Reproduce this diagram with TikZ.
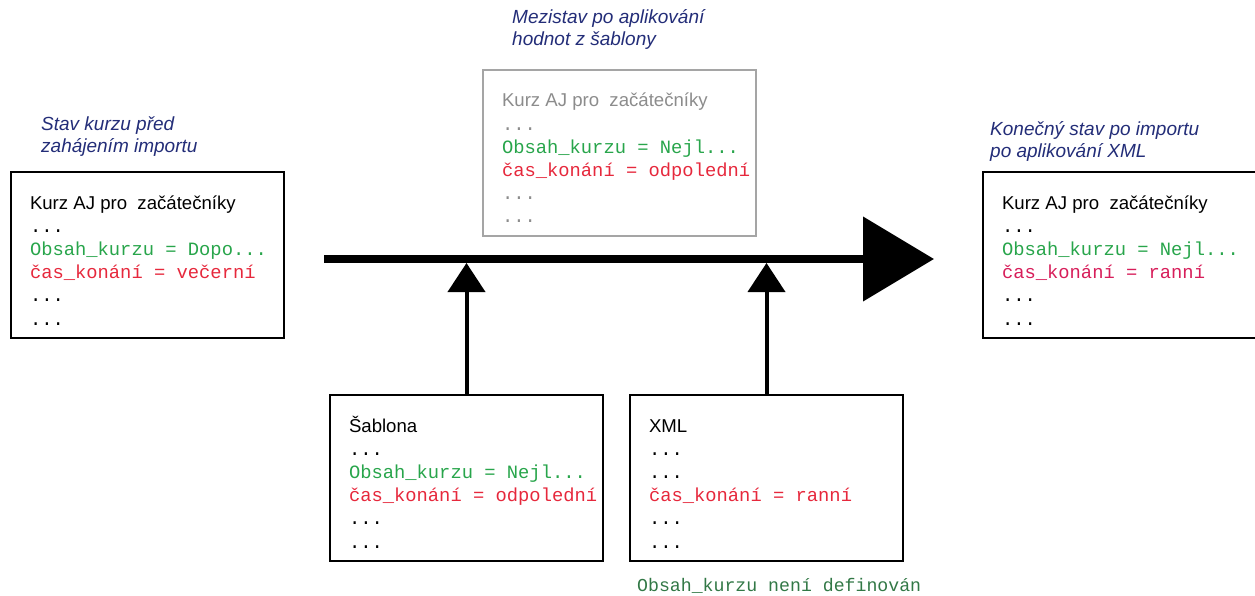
\documentclass[tikz,border=0pt]{standalone}
\usepackage{fontspec}
\setmainfont{Liberation Sans}
\setmonofont{Liberation Mono}
\usetikzlibrary{arrows.meta}

\definecolor{txtgreen}{RGB}{40,165,75}
\definecolor{txtred}{RGB}{230,40,60}
\definecolor{txtpink}{RGB}{215,30,90}
\definecolor{lblblue}{RGB}{35,45,120}
\definecolor{boxgrey}{RGB}{165,165,165}
\definecolor{txtgrey}{RGB}{140,140,140}
\definecolor{darkgreen}{RGB}{50,120,70}

\newcommand{\boxfont}{\ttfamily\fontsize{18.8}{23.2}\selectfont}
\newcommand{\notefont}{\ttfamily\fontsize{18.2}{22}\selectfont}
\newcommand{\ttl}[1]{{\rmfamily\fontsize{18.6}{23.2}\selectfont\spaceskip=0pt\relax\rule{0pt}{24pt}#1}}
\newcommand{\rowtxt}[2]{\mbox{\spaceskip=0pt\relax\textcolor{#1}{#2}}}

\tikzset{
  box/.style={draw=black, line width=2pt, anchor=north west, outer sep=0pt,
    minimum width=273pt, minimum height=166pt, text width=235pt, inner xsep=19pt,
    align=left, font=\boxfont},
  lbl/.style={anchor=north west, inner sep=0pt, align=left, text=lblblue,
    font=\itshape\fontsize{19}{22.5}\selectfont},
  arr/.style={line width=4pt, -{Triangle[length=29pt, width=37pt]}}
}

\begin{document}
\begin{tikzpicture}[x=1pt, y=-1pt]
      \useasboundingbox (0,0) rectangle (1255,596);

      \node[lbl] (l1) at (41,116) {Stav kurzu před\\zahájením importu};
      \node[lbl] (l2) at (512,9) {Mezistav po aplikování\\hodnot z šablony};
      \node[lbl] (l3) at (990,121) {Konečný stav po importu\\po aplikování XML};

      \node[box] (start) at (11,172) {\ttl{Kurz AJ pro\ \ začátečníky}\\...\\
        \rowtxt{txtgreen}{Obsah\_kurzu = Dopo...}\\
        \rowtxt{txtred}{čas\_konání = večerní}\\...\\...};
      \node[box, draw=boxgrey, text=txtgrey] (mid) at (483,70) {\ttl{Kurz AJ pro\ \ začátečníky}\\...\\
        \rowtxt{txtgreen}{Obsah\_kurzu = Nejl...}\\
        \rowtxt{txtred}{čas\_konání = odpolední}\\...\\...};
      \node[box, minimum width=272pt] (final) at (983,172) {\ttl{Kurz AJ pro\ \ začátečníky}\\...\\
        \rowtxt{txtgreen}{Obsah\_kurzu = Nejl...}\\
        \rowtxt{txtpink}{čas\_konání = ranní}\\...\\...};
      \node[box, minimum width=272pt] (tmpl) at (330,395) {\ttl{Šablona}\\...\\
        \rowtxt{txtgreen}{Obsah\_kurzu = Nejl...}\\
        \rowtxt{txtred}{čas\_konání = odpolední}\\...\\...};
      \node[box, minimum width=272pt] (xml) at (630,395) {\ttl{XML}\\...\\...\\
        \rowtxt{txtred}{čas\_konání = ranní}\\...\\...};
      \node[anchor=base west, inner sep=0pt, text=darkgreen, font=\notefont]
        (note) at (637,591) {Obsah\_kurzu není definován};

      \coordinate (a) at (324,259);
      \coordinate (b) at (934,259);
      \coordinate (top) at (0,263);

      \draw[line width=8pt, -{Triangle[length=71pt, width=83pt]}] (a) -- (b);
      \draw[arr] (tmpl.north) -- (tmpl.north |- top);
      \draw[arr] (xml.north) -- (xml.north |- top);
    \end{tikzpicture}
\end{document}
